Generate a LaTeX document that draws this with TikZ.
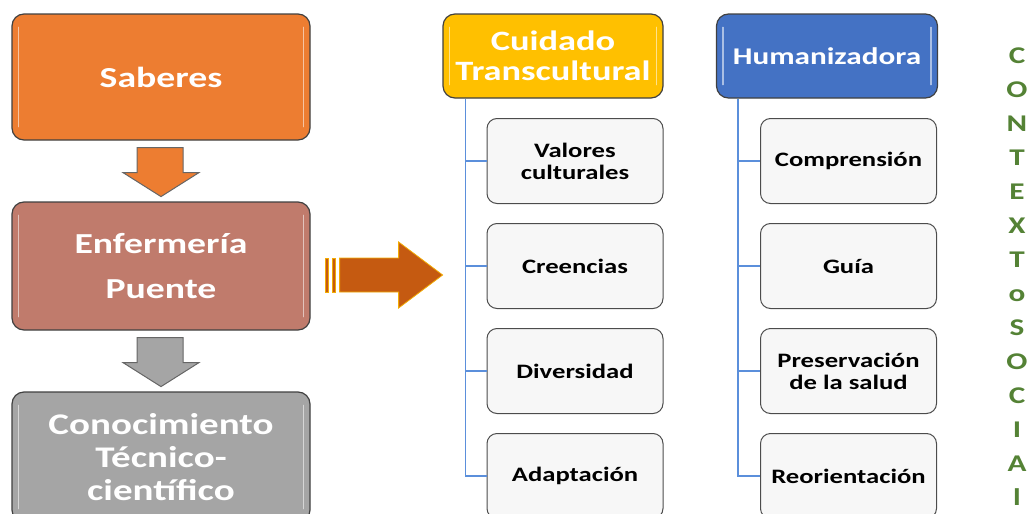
\documentclass[tikz,border=0pt]{standalone}
\usepackage{fontspec}
\setmainfont{Carlito}[FakeStretch=1.3]
\usetikzlibrary{positioning}

\definecolor{saborange}{HTML}{ED7D31}
\definecolor{puente}{HTML}{C07B6C}
\definecolor{tecgray}{HTML}{A5A5A5}
\definecolor{cuidyellow}{HTML}{FFC000}
\definecolor{humblue}{HTML}{4472C4}
\definecolor{linkblue}{HTML}{5B8FDB}
\definecolor{arrowbrown}{HTML}{C55A11}
\definecolor{ctxgreen}{HTML}{548235}

\begin{document}
\begin{tikzpicture}[x=1pt,y=-1pt,node distance=105pt,on grid,
  bigbox/.style={draw=black!75,line width=1.2pt,rounded corners=12pt,text=white,align=center,minimum width=298pt},
  headbox/.style={draw=black!75,line width=1.2pt,rounded corners=12pt,text=white,align=center,minimum height=84pt,
    font=\bfseries\fontsize{28}{30}\selectfont},
  subbox/.style={draw=black!70,line width=1pt,rounded corners=10pt,fill=black!3,align=center,
    minimum width=176pt,minimum height=85pt,font=\bfseries\fontsize{20.5}{22}\selectfont},
  link/.style={draw=linkblue,line width=1.2pt},
  gloss/.style={draw=white,opacity=0.55,line width=1.6pt,line cap=round}]
\useasboundingbox (0,0) rectangle (1031,514);
\clip (0,0) rectangle (1031,514);

% left column
\node[bigbox,fill=saborange,minimum height=126pt,font=\bfseries\fontsize{29}{34}\selectfont] (S) at (161,77) {Saberes};
\node[bigbox,fill=puente,minimum height=128pt,font=\bfseries\fontsize{29}{45}\selectfont] (E) at (161,266) {Enfermería\\Puente};
\node[bigbox,fill=tecgray,minimum height=130pt,font=\bfseries\fontsize{30}{33}\selectfont] (C) at (161,457) {Conocimiento\\Técnico-\\científico};

% heads
\node[headbox,fill=cuidyellow,minimum width=220pt] (T) at (553,56) {Cuidado\\Transcultural};
\node[headbox,fill=humblue,minimum width=221pt,font=\bfseries\fontsize{24}{28}\selectfont] (H) at (827,56) {Humanizadora};

% sub boxes
\node[subbox] (V) at (575,161) {Valores\\culturales};
\node[subbox] (Cr) [below=of V] {Creencias};
\node[subbox] (D) [below=of Cr] {Diversidad};
\node[subbox] (A) [below=of D] {Adaptación};

\node[subbox] (Co) at (848.5,161) {Comprensión};
\node[subbox] (G) [below=of Co] {Guía};
\node[subbox] (P) [below=of G] {Preservación\\de la salud};
\node[subbox] (R) [below=of P] {Reorientación};

\coordinate (tl) at ([xshift=23pt]T.south west);
\coordinate (hl) at ([xshift=22pt]H.south west);
\draw[link] (tl) |- (V.west) (tl) |- (Cr.west) (tl) |- (D.west) (tl) |- (A.west);
\draw[link] (hl) |- (Co.west) (hl) |- (G.west) (hl) |- (P.west) (hl) |- (R.west);

% glossy edges
\foreach \n in {S,E,C,T,H} {
  \draw[gloss] ([shift={(7,14)}]\n.north west) -- ([shift={(7,-14)}]\n.south west);
  \draw[gloss] ([shift={(-7,14)}]\n.north east) -- ([shift={(-7,-14)}]\n.south east);
}

% block arrows
\foreach \n/\c in {S/saborange,E/tecgray}
  \draw[shift={(\n.south)},draw=black!60,line width=1pt,fill=\c]
    (-24,7) -- (22,7) -- (22,32) -- (38,32) -- (0,56) -- (-38,32) -- (-24,32) -- cycle;

\begin{scope}[shift={(E.east)},draw=cuidyellow!80!arrowbrown,fill=arrowbrown,line width=0.8pt]
  \filldraw (15,-8) rectangle (18,26);
  \filldraw (22,-8) rectangle (25,26);
  \filldraw (29,-8) -- (88,-8) -- (88,-24) -- (132,9) -- (88,42) -- (88,26) -- (29,26) -- cycle;
\end{scope}

% context label
\node[text=ctxgreen,align=center,font=\bfseries\fontsize{24}{34}\selectfont] (X) at (1017,277)
  {C\\O\\N\\T\\E\\X\\T\\o\\S\\O\\C\\I\\A\\l};
\end{tikzpicture}
\end{document}
